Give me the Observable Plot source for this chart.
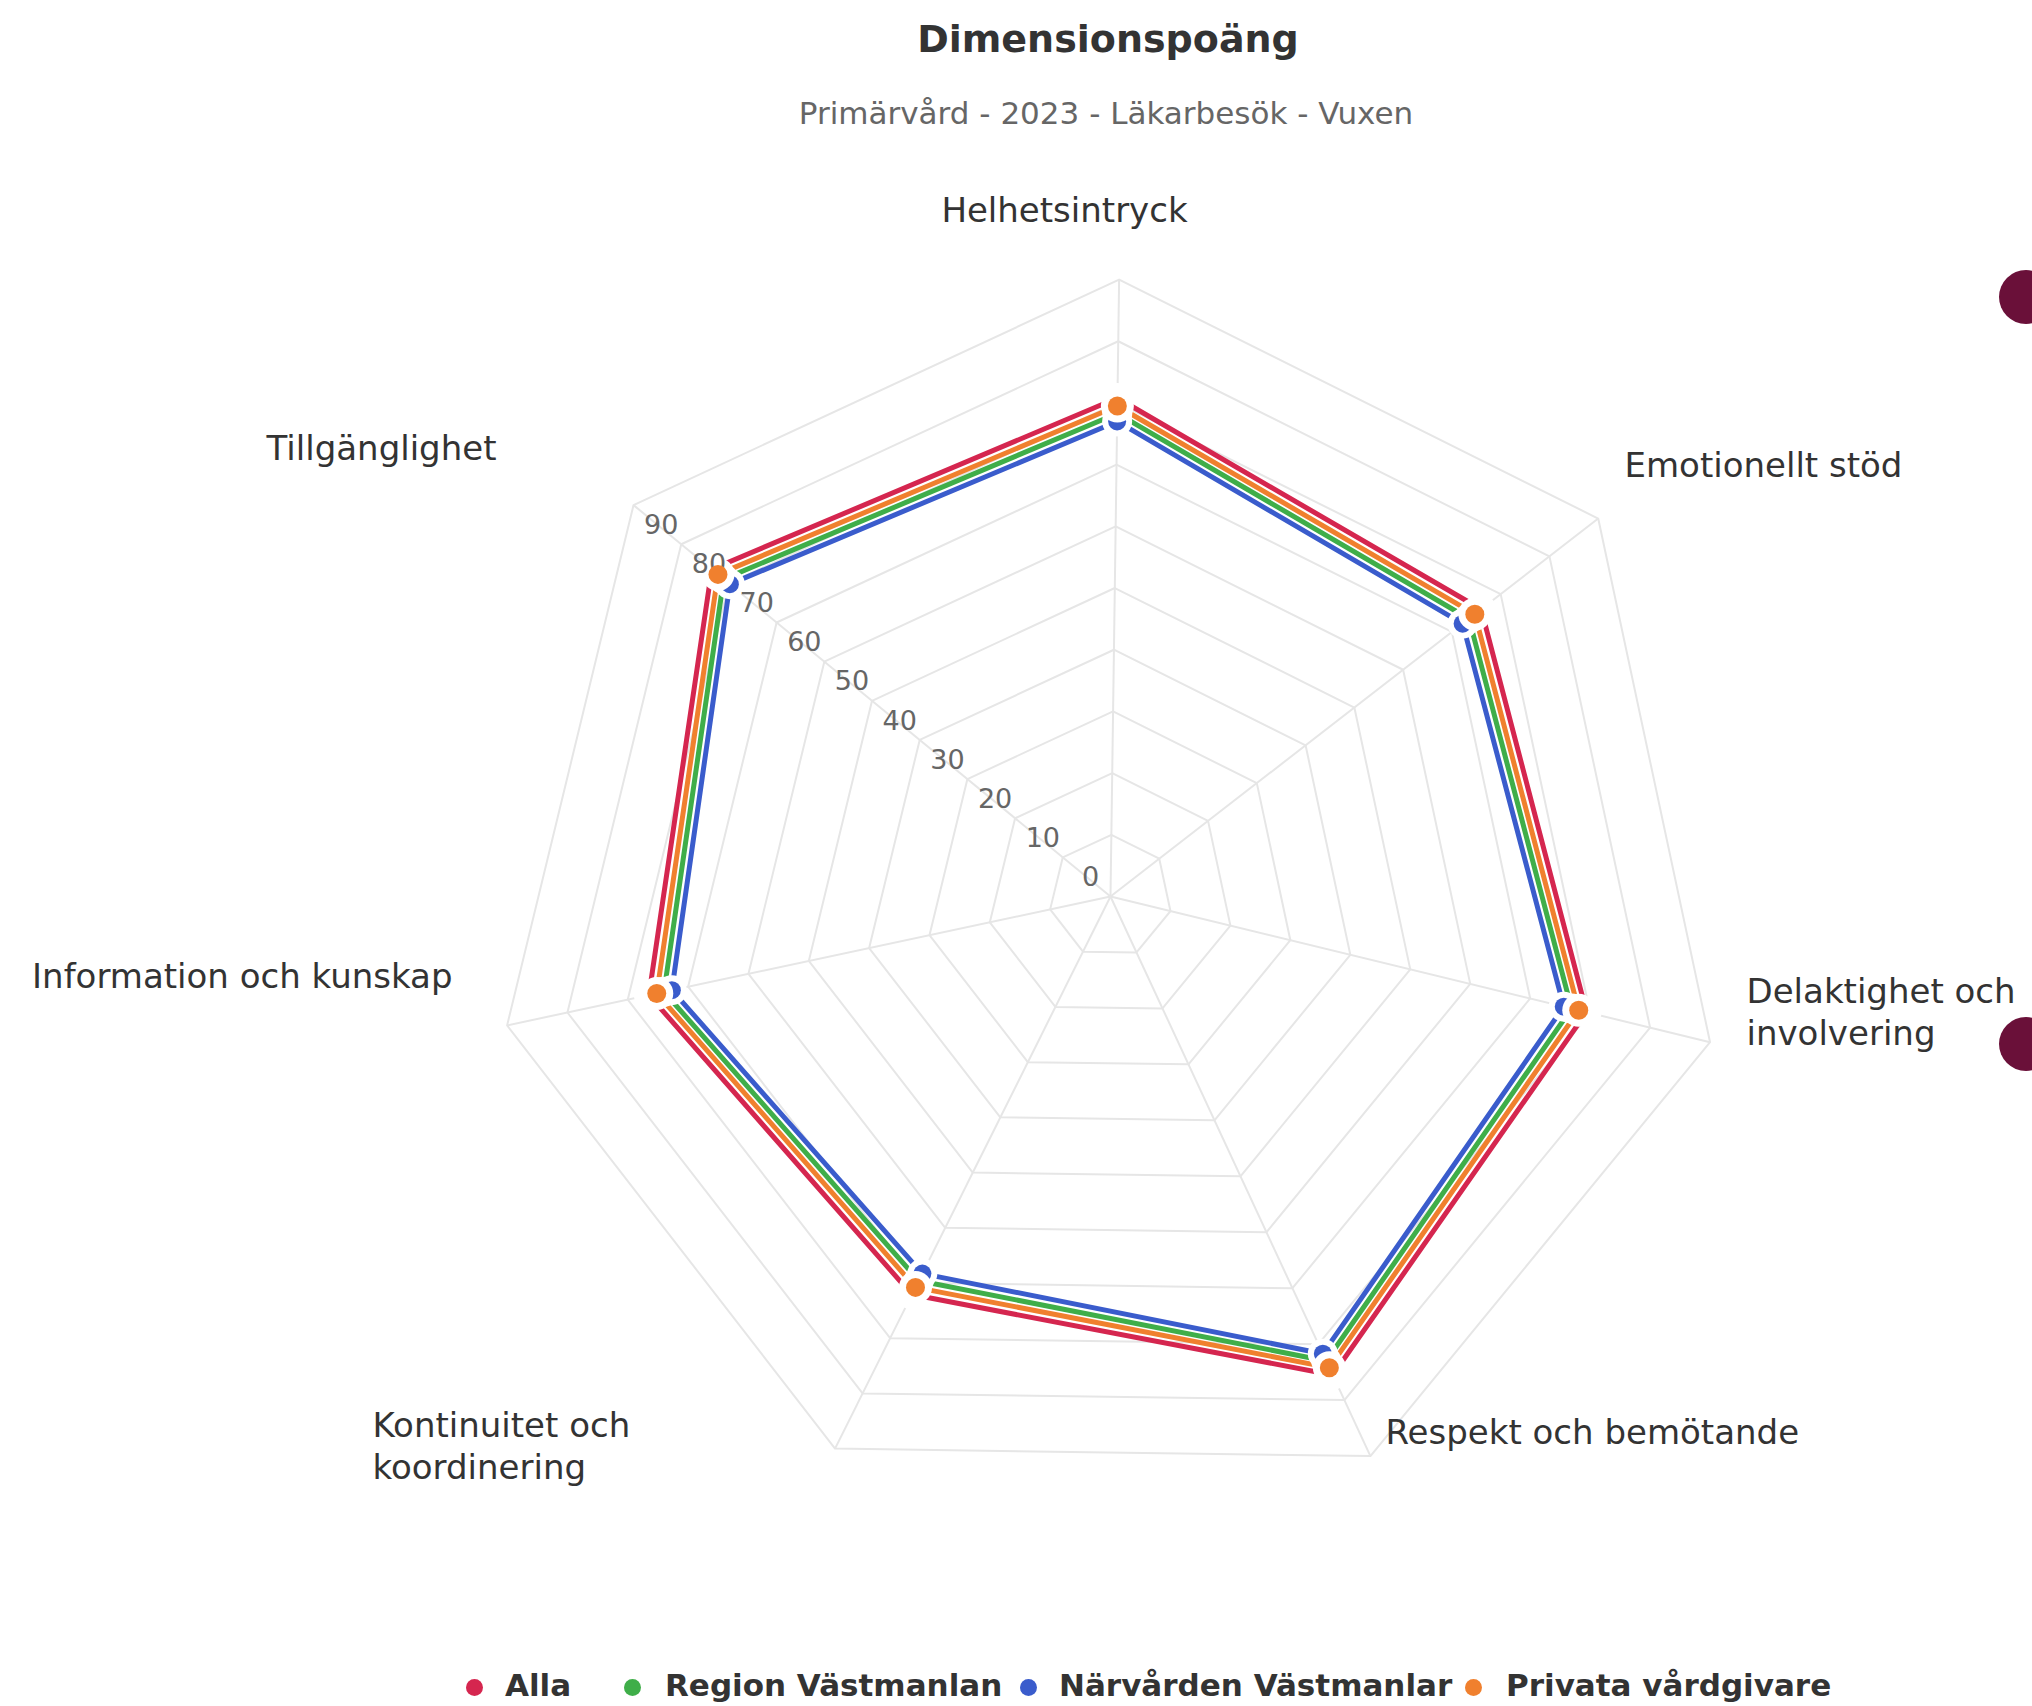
<!DOCTYPE html>
<html>
<head>
<meta charset="utf-8">
<script src="https://cdn.jsdelivr.net/npm/d3@7"></script>
<script src="https://cdn.jsdelivr.net/npm/@observablehq/plot@0.6"></script>
<style>
  body { margin: 0; background: #fff; font-family: "DejaVu Sans", sans-serif; }
  #page { position: relative; width: 2032px; height: 1706px; overflow: hidden; background: #fff; }
  #title { position: absolute; left: 0; width: 2216px; top: 17px; text-align: center; font-size: 38px; font-weight: bold; color: #333; }
  #subtitle { position: absolute; left: 0; width: 2212px; top: 95px; text-align: center; font-size: 31px; color: #666; }
  #chart { position: absolute; left: 0; top: 150px; }
  #legend { position: absolute; left: 0; top: 0; width: 2032px; height: 1706px; pointer-events: none; }
  .leg-dot { position: absolute; width: 17px; height: 17px; border-radius: 50%; }
  .leg-text { position: absolute; font-size: 31px; font-weight: bold; color: #333; white-space: nowrap; line-height: 1; }
  .deco { position: absolute; width: 54px; height: 54px; border-radius: 50%; background: #6a1039; }
</style>
</head>
<body>
<div id="page">
  <div id="title">Dimensionspoäng</div>
  <div id="subtitle">Primärvård - 2023 - Läkarbesök - Vuxen</div>
  <div id="chart"></div>
  <div id="legend"></div>
  <div class="deco" style="left:1999px; top:270px;"></div>
  <div class="deco" style="left:1999px; top:1017px;"></div>
</div>
<script>
// ---------------- data ----------------
const dimensions = [
  "Helhetsintryck",
  "Emotionellt stöd",
  "Delaktighet och\ninvolvering",
  "Respekt och bemötande",
  "Kontinuitet och\nkoordinering",
  "Information och kunskap",
  "Tillgänglighet"
];
const seriesNames = ["Alla", "Region Västmanlan", "Närvården Västmanlar", "Privata vårdgivare"];
const alla      = [80.8, 76.0, 79.4, 85.5, 72.1, 76.5, 83.6];
const region    = [78.3, 73.5, 76.9, 83.0, 69.6, 74.0, 81.1];
const narvarden = [77.0, 72.2, 75.6, 81.7, 68.3, 72.7, 79.8];
const privata   = [79.5, 74.7, 78.1, 84.2, 70.8, 75.2, 82.3];
const tickValues = [0, 10, 20, 30, 40, 50, 60, 70, 80, 90];
const gridLevels = [10, 20, 30, 40, 50, 60, 70, 80, 90, 100];
const maxValue = 100;

// ---------------- styling / layout ----------------
const colors = ["#d5264f", "#3fae49", "#3a5ccc", "#f0802e"];
const W = 2032, H = 1450;
const cx = 1110, cy = 746, R = 617;      // centre and outer radius in svg px
const rotation = 0.8 * Math.PI / 180;    // slight clockwise tilt seen in the reference
const unit = R / maxValue;               // px per data unit
const n = dimensions.length;
const ang = i => 2 * Math.PI * i / n + rotation;
const X = (i, v) => v * Math.sin(ang(i));
const Y = (i, v) => v * Math.cos(ang(i));

// label placement: pixel offsets from centre, converted to data units
const labelLayout = [
  {dx: -46, dy: -675, anchor: "middle"},
  {dx: 514, dy: -420, anchor: "start"},
  {dx: 636, dy: 148, anchor: "start"},
  {dx: 275, dy: 547, anchor: "start"},
  {dx: -738, dy: 582, anchor: "start"},
  {dx: -658, dy: 91, anchor: "end"},
  {dx: -614, dy: -437, anchor: "end"}
];

const seriesValues = [alla, region, narvarden, privata];
const points = seriesNames.flatMap((s, k) =>
  seriesValues[k].map((v, i) => ({series: s, k, i, v, x: X(i, v), y: Y(i, v)})));
const grid = gridLevels.flatMap(l => dimensions.map((d, i) => ({level: l, x: X(i, l), y: Y(i, l)})));
const spokes = dimensions.map((d, i) => i);
const labels = dimensions.map((d, i) => ({
  text: d, anchor: labelLayout[i].anchor,
  x: labelLayout[i].dx / unit, y: -labelLayout[i].dy / unit
}));
const ptsOf = k => points.filter(p => p.k === k);
const labelMark = a => Plot.text(labels.filter(d => d.anchor === a), {
  x: "x", y: "y", text: "text", textAnchor: a, lineAnchor: "bottom",
  fontSize: 34, fill: "#333", lineHeight: 1.22
});

const plot = Plot.plot({
  width: W, height: H,
  marginLeft: cx - R, marginRight: W - cx - R,
  marginTop: cy - R, marginBottom: H - cy - R,
  x: {domain: [-maxValue, maxValue], axis: null},
  y: {domain: [-maxValue, maxValue], axis: null},
  color: {domain: seriesNames, range: colors},
  style: {fontFamily: "DejaVu Sans, sans-serif", background: "transparent", overflow: "visible"},
  marks: [
    Plot.line(grid, {x: "x", y: "y", z: "level", curve: "linear-closed", stroke: "#e6e6e6", strokeWidth: 2}),
    Plot.link(spokes, {x1: 0, y1: 0, x2: i => X(i, maxValue), y2: i => Y(i, maxValue), stroke: "#e6e6e6", strokeWidth: 2}),
    Plot.line(points, {x: "x", y: "y", z: "series", stroke: "series", strokeWidth: 5, curve: "linear-closed"}),
    // white marker halos
    Plot.dot(points.filter(p => p.k < 3), {x: "x", y: "y", r: 15, fill: "white", stroke: "none"}),
    Plot.dot(ptsOf(2), {x: "x", y: "y", r: 9, fill: "series", stroke: "none"}),
    Plot.dot(ptsOf(3), {x: "x", y: "y", r: 16.5, fill: "white", stroke: "none"}),
    // radial tick labels
    Plot.text(tickValues, {x: t => X(6, t), y: t => Y(6, t), text: d => String(d), dx: -20, dy: -19,
      fill: "#666", fontSize: 27, lineAnchor: "middle", textAnchor: "middle"}),
    Plot.dot(ptsOf(3), {x: "x", y: "y", r: 9.5, fill: "series", stroke: "none"}),
    labelMark("middle"),
    labelMark("start"),
    labelMark("end")
  ]
});
document.getElementById("chart").appendChild(plot);

// legend
const legendItems = [
  {dot: 474, text: 505},
  {dot: 632, text: 665},
  {dot: 1028, text: 1059},
  {dot: 1473, text: 1506}
];
const legend = d3.select("#legend");
seriesNames.forEach((s, k) => {
  legend.append("div").attr("class", "leg-dot")
    .style("left", (legendItems[k].dot - 8.5) + "px").style("top", (1687 - 8.5) + "px")
    .style("background", colors[k]);
  legend.append("div").attr("class", "leg-text")
    .style("left", legendItems[k].text + "px").style("top", "1670px")
    .text(s);
});
</script>
</body>
</html>
